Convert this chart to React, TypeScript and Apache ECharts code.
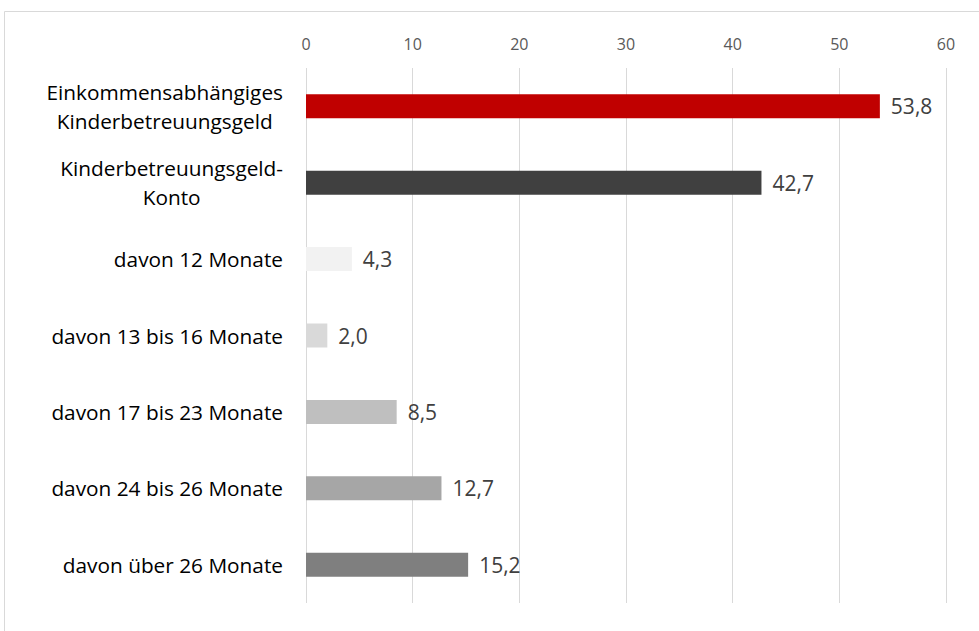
import React, { useEffect, useRef } from "react";
import * as echarts from "echarts";

const categories = [
  "Einkommensabhängiges\nKinderbetreuungsgeld",
  "Kinderbetreuungsgeld-\nKonto",
  "davon 12 Monate",
  "davon 13 bis 16 Monate",
  "davon 17 bis 23 Monate",
  "davon 24 bis 26 Monate",
  "davon über 26 Monate",
];
const values = [53.8, 42.7, 4.3, 2.0, 8.5, 12.7, 15.2];
const colors = ["#C00000", "#404040", "#F2F2F2", "#D9D9D9", "#BFBFBF", "#A6A6A6", "#7F7F7F"];
const FONT = "Open Sans";

export default function App() {
  const ref = useRef<HTMLDivElement>(null);
  useEffect(() => {
    const chart = echarts.init(ref.current!, null, { renderer: "svg" });
    chart.setOption({
      animation: false,
      backgroundColor: "#ffffff",
      graphic: [
        {
          type: "rect",
          shape: { x: 4.5, y: 11.5, width: 1000, height: 700 },
          style: { fill: "none", stroke: "#d9d9d9", lineWidth: 1 },
          silent: true,
        },
      ],
      grid: { left: 306, right: 33, top: 68, bottom: 28, containLabel: false },
      xAxis: {
        type: "value",
        position: "top",
        min: 0,
        max: 60,
        interval: 10,
        axisLine: { show: false },
        axisTick: { show: false },
        axisLabel: { color: "#595959", fontSize: 16, fontFamily: FONT, margin: 16 },
        splitLine: { show: true, lineStyle: { color: "#d9d9d9", width: 1 } },
      },
      yAxis: {
        type: "category",
        inverse: true,
        data: categories,
        axisLine: { show: false },
        axisTick: { show: false },
        axisLabel: {
          color: "#000000",
          fontSize: 20.8,
          fontFamily: FONT,
          margin: 23,
          lineHeight: 29,
          formatter: (v: string) => (v.indexOf("\n") >= 0 ? v.split("\n").map((l) => "{c|" + l + "}").join("\n") : v),
          rich: { c: { align: "center", fontSize: 20.8, fontFamily: FONT, color: "#000000", lineHeight: 29 } },
        },
      },
      series: [
        {
          type: "bar",
          data: values.map((v, i) => ({ value: v, itemStyle: { color: colors[i] } })),
          barWidth: 24,
          label: {
            show: true,
            position: "right",
            distance: 11,
            color: "#404040",
            fontSize: 21,
            fontFamily: FONT,
            formatter: (p: any) => p.value.toFixed(1).replace(".", ","),
          },
        },
      ],
    });
    return () => chart.dispose();
  }, []);
  return <div ref={ref} style={{ position: "absolute", left: 0, top: 0, width: 979, height: 631 }} />;
}
